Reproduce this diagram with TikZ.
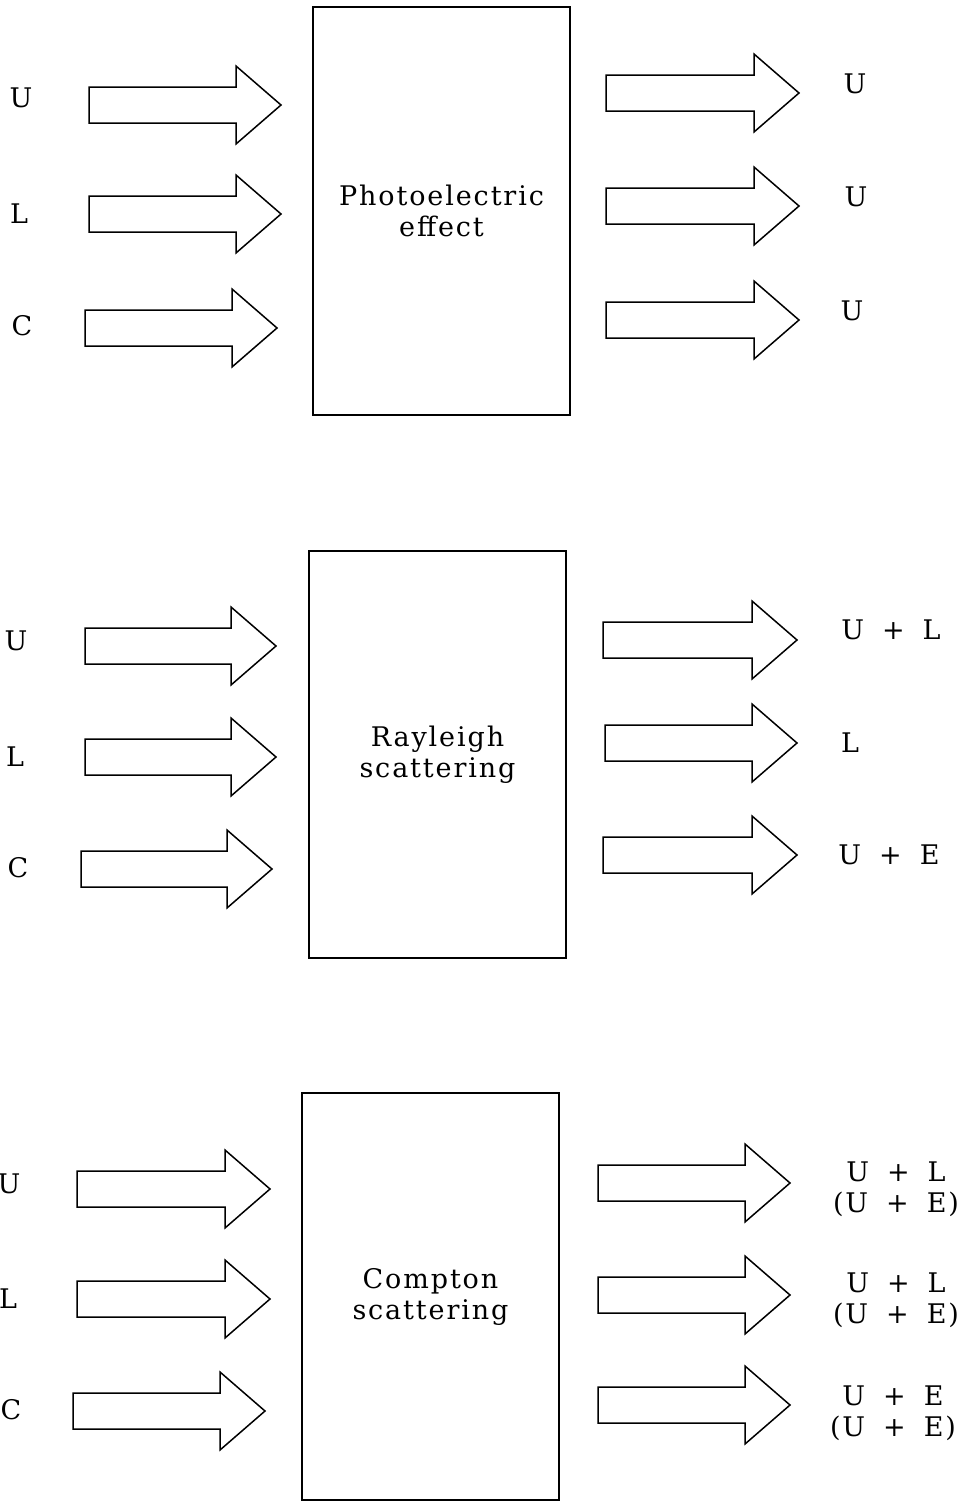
\documentclass[tikz,border=0pt]{standalone}
\usepackage{fontspec}
\setmainfont{DejaVu Serif}[LetterSpace=7]
\begin{document}
\begin{tikzpicture}[x=1pt,y=-1pt,
  lbl/.style={font=\fontsize{27}{31}\selectfont, inner sep=0pt, align=center},
  procbox/.style={draw, line width=1.5pt, font=\fontsize{27}{31}\selectfont, align=center, inner sep=0pt},
  blockarrow/.style={draw, line width=1.5pt, line join=miter}]
\fill[white] (0,0) rectangle (962,1502);
\useasboundingbox (0,0) rectangle (962,1502);
\newcommand\barrow[3]{%
  \draw[blockarrow] (#1,#3-18) -- (#2-45,#3-18) -- (#2-45,#3-39) -- (#2,#3) -- (#2-45,#3+39) -- (#2-45,#3+18) -- (#1,#3+18) -- cycle;}
\newcommand\pp{\hspace{18pt}+\hspace{18pt}}
% boxes
\node[procbox, minimum width=257pt, minimum height=408pt] (b1) at (441.5,211) {Photoelectric\\effect};
\node[procbox, minimum width=257pt, minimum height=407pt] (b2) at (437.5,754.5) {Rayleigh\\scattering};
\node[procbox, minimum width=257pt, minimum height=407pt] (b3) at (430.5,1296.5) {Compton\\scattering};
% arrows block 1
\barrow{89}{281}{105}
\barrow{89}{281}{214}
\barrow{85}{277}{328}
\barrow{606}{799}{93}
\barrow{606}{799}{206}
\barrow{606}{799}{320}
% arrows block 2
\barrow{85}{276}{646}
\barrow{85}{276}{757}
\barrow{81}{272}{869}
\barrow{603}{797}{640}
\barrow{605}{797}{743}
\barrow{603}{797}{855}
% arrows block 3
\barrow{77}{270}{1189}
\barrow{77}{270}{1299}
\barrow{73}{265}{1411}
\barrow{598}{790}{1183}
\barrow{598}{790}{1295}
\barrow{598}{790}{1405}
% labels block 1
\node[lbl] (i1u) at (21,98) {U};
\node[lbl] (i1l) at (19,214) {L};
\node[lbl] (i1c) at (22,326) {C};
\node[lbl] (o1a) at (855,84) {U};
\node[lbl] (o1b) at (856,197) {U};
\node[lbl] (o1c) at (852,311) {U};
% labels block 2
\node[lbl] (i2u) at (16,641) {U};
\node[lbl] (i2l) at (15,757) {L};
\node[lbl] (i2c) at (18,868) {C};
\node[lbl] (o2a) at (891,630) {U\pp L};
\node[lbl] (o2b) at (850,743) {L};
\node[lbl] (o2c) at (889,855) {U\pp E};
% labels block 3
\node[lbl] (i3u) at (9,1184) {U};
\node[lbl] (i3l) at (8,1299) {L};
\node[lbl] (i3c) at (11,1410) {C};
\node[lbl] (o3a) at (896,1189) {U\pp L\\(U\pp E)};
\node[lbl] (o3b) at (896,1300) {U\pp L\\(U\pp E)};
\node[lbl] (o3c) at (893,1413) {U\pp E\\(U\pp E)};
\end{tikzpicture}
\end{document}
